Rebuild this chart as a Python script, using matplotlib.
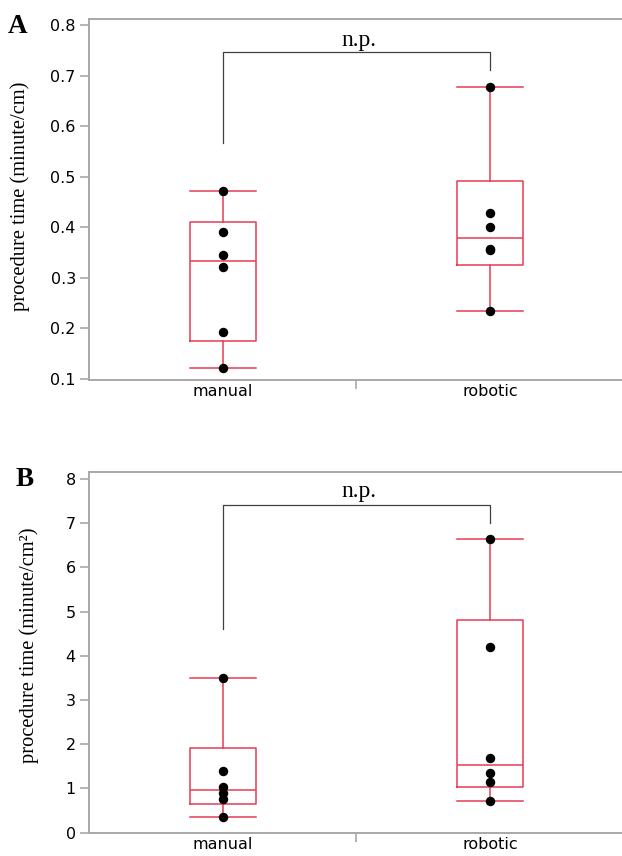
import numpy as np
import matplotlib
matplotlib.use('Agg')
import matplotlib.pyplot as plt

# values
groups = ['manual', 'robotic']
len_manual = [0.121, 0.192, 0.321, 0.345, 0.390, 0.472]
len_robotic = [0.235, 0.356, 0.358, 0.401, 0.429, 0.677]
area_manual = [0.35, 0.755, 0.905, 1.04, 1.40, 3.50]
area_robotic = [0.72, 1.14, 1.34, 1.70, 4.20, 6.64]
yticks_a = [0.1, 0.2, 0.3, 0.4, 0.5, 0.6, 0.7, 0.8]
yticks_b = [0, 1, 2, 3, 4, 5, 6, 7, 8]
bracket_a = (0.566, 0.747, 0.711)
bracket_b = (4.61, 7.41, 7.01)

BOX = '#E63C55'
SPINE = '#A8A8A8'
W, H = 622, 856


def box_stats(vals):
    # quartiles as (n+1)p, whiskers to min / max
    q1, med, q3 = np.percentile(vals, [25, 50, 75], method='weibull')
    return dict(med=med, q1=q1, q3=q3, whislo=min(vals), whishi=max(vals), fliers=[])


def draw_panel(ax, data, yticks, ylim, bracket, np_y, fmt):
    pos = np.arange(len(data))
    ax.bxp([box_stats(v) for v in data], positions=pos, widths=0.247, showfliers=False,
           boxprops=dict(color=BOX, lw=1.1), medianprops=dict(color=BOX, lw=1.1),
           whiskerprops=dict(color=BOX, lw=1.1), capprops=dict(color=BOX, lw=1.1),
           capwidths=0.247)
    for p, v in zip(pos, data):
        ax.plot([p] * len(v), v, 'o', color='black', ms=5.8, zorder=5)

    lo, top, hi = bracket
    ax.plot([0, 0, 1, 1], [lo, top, top, hi], color='#404040', lw=0.9)
    ax.text(0.51, np_y, 'n.p.', ha='center', va='center', fontsize=17,
            family='Liberation Serif')

    ax.set_xlim(-0.5, 1.494)
    ax.set_ylim(*ylim)
    ax.set_yticks(yticks)
    ax.set_yticklabels([fmt(t) for t in yticks])
    ax.set_xticks([0.5])
    ax.set_xticklabels([''])
    ax.set_xticks(pos, minor=True)
    ax.set_xticklabels(groups, minor=True)
    ax.tick_params(axis='x', which='minor', length=0, pad=3, labelsize=11.5)
    ax.tick_params(axis='both', which='major', color=SPINE, width=1.2, length=6.5,
                   labelsize=11.5, pad=3)
    for s in ['top', 'left', 'bottom']:
        ax.spines[s].set_color(SPINE)
        ax.spines[s].set_linewidth(1.4)
    ax.spines['right'].set_visible(False)


fig = plt.figure(figsize=(W / 100, H / 100), dpi=100)

ax_a = fig.add_axes([89 / W, 1 - 380 / H, 533 / W, 361.5 / H])
draw_panel(ax_a, [len_manual, len_robotic], yticks_a, (0.098, 0.813), bracket_a, 0.770,
           lambda t: f'{t:.1f}')

ax_b = fig.add_axes([89 / W, 1 - 833.3 / H, 533 / W, 361.6 / H])
draw_panel(ax_b, [area_manual, area_robotic], yticks_b, (-0.014, 8.165), bracket_b, 7.71,
           lambda t: f'{t:d}')

fig.text(20.5 / W, 1 - 196.5 / H, 'procedure time (minute/cm)', rotation=90,
         ha='center', va='center', fontsize=14.8, family='Liberation Serif')
fig.text(29.5 / W, 1 - 645 / H, 'procedure time (minute/cm\u00b2)', rotation=90,
         ha='center', va='center', fontsize=14.8, family='Liberation Serif')

fig.text(8 / W, 1 - 14 / H, 'A', ha='left', va='top', fontsize=19.5, weight='bold',
         family='Liberation Serif')
fig.text(16 / W, 1 - 467 / H, 'B', ha='left', va='top', fontsize=19.5, weight='bold',
         family='Liberation Serif')

fig.savefig('out.png', dpi=100)
